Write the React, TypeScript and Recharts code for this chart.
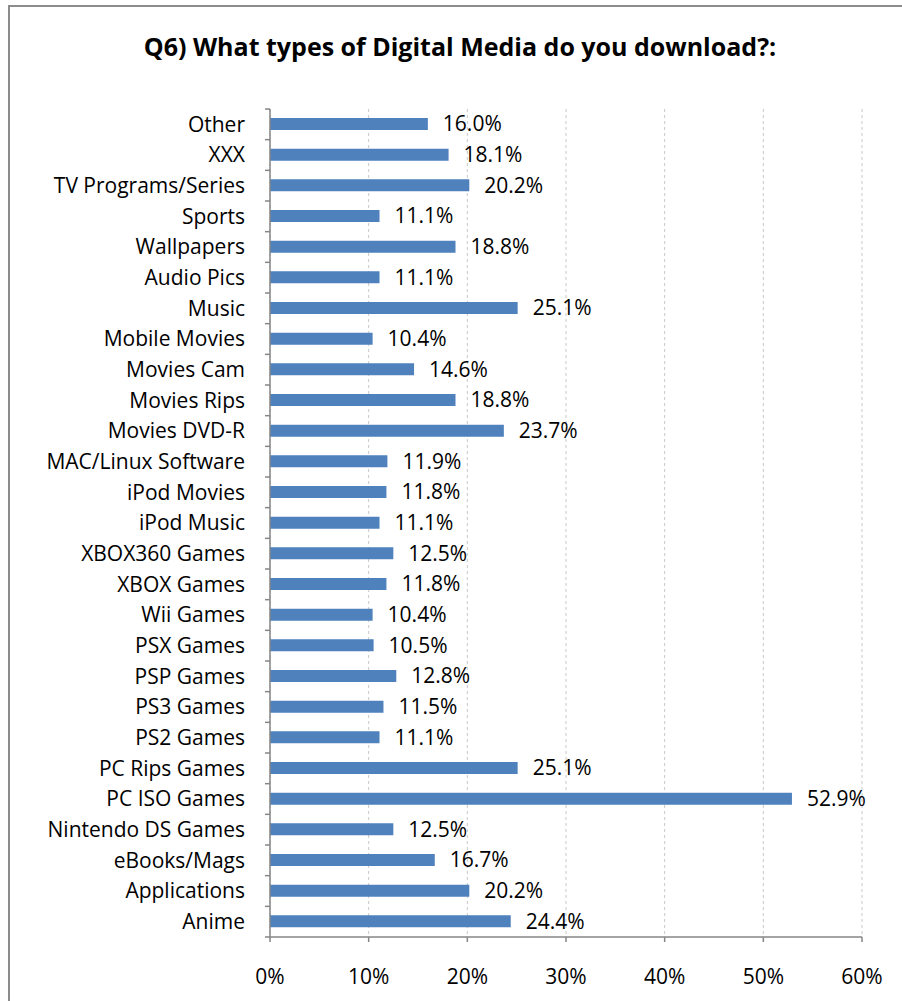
import { BarChart, Bar, XAxis, YAxis, CartesianGrid, LabelList } from 'recharts'

const categories = [
  'Other', 'XXX', 'TV Programs/Series', 'Sports', 'Wallpapers', 'Audio Pics', 'Music',
  'Mobile Movies', 'Movies Cam', 'Movies Rips', 'Movies DVD-R', 'MAC/Linux Software',
  'iPod Movies', 'iPod Music', 'XBOX360 Games', 'XBOX Games', 'Wii Games', 'PSX Games',
  'PSP Games', 'PS3 Games', 'PS2 Games', 'PC Rips Games', 'PC ISO Games',
  'Nintendo DS Games', 'eBooks/Mags', 'Applications', 'Anime',
]

const shares = [
  16.0, 18.1, 20.2, 11.1, 18.8, 11.1, 25.1,
  10.4, 14.6, 18.8, 23.7, 11.9,
  11.8, 11.1, 12.5, 11.8, 10.4, 10.5,
  12.8, 11.5, 11.1, 25.1, 52.9,
  12.5, 16.7, 20.2, 24.4,
]

const xTicks = [0, 10, 20, 30, 40, 50, 60]

const data = categories.map((name, i) => ({ name, share: shares[i] }))

const font = '"Open Sans", sans-serif'
const axisGray = '#868686'
const fs = 21

const W = 902
const H = 1001
const M = { top: 109, right: 40, bottom: 34, left: 0 }
const X_AXIS_H = 30
const band = (H - M.top - M.bottom - X_AXIS_H) / categories.length

// label plus Excel-style tick marks between categories
function CatTick(props: any) {
  const { x, y, payload, index } = props
  const ax = x + 25
  return (
    <g>
      {index === 0 && (
        <line x1={ax - 5} x2={ax} y1={y - band / 2} y2={y - band / 2} stroke={axisGray} strokeWidth={1.5} />
      )}
      <line x1={ax - 5} x2={ax} y1={y + band / 2} y2={y + band / 2} stroke={axisGray} strokeWidth={1.5} />
      <text x={x} y={y} dy="0.355em" textAnchor="end" fill="#000" fontSize={fs} fontFamily={font}>
        {payload.value}
      </text>
    </g>
  )
}

export default function App() {
  return (
    <div style={{ position: 'absolute', left: 0, top: 0, width: W, height: H, overflow: 'hidden', background: '#fff', fontFamily: font }}>
      <div style={{ position: 'absolute', left: 8, top: 5, width: 1000, height: 1100, border: '2px solid #8c8c8c' }} />
      <div style={{ position: 'absolute', left: 0, width: W, top: 29, textAlign: 'center', fontWeight: 'bold', fontSize: 25, lineHeight: '34px', color: '#000', paddingLeft: 18, boxSizing: 'border-box' }}>
        Q6) What types of Digital Media do you download?:
      </div>
      <BarChart
        width={W}
        height={H}
        data={data}
        layout="vertical"
        margin={M}
        barSize={12}
        style={{ position: 'absolute', left: 0, top: 0 }}
      >
        <CartesianGrid horizontal={false} stroke="#c8c8c8" strokeDasharray="3 3" />
        <XAxis
          type="number"
          domain={[0, 60]}
          ticks={xTicks}
          height={X_AXIS_H}
          tickFormatter={(v: number) => `${v}%`}
          stroke={axisGray}
          strokeWidth={1.5}
          tickSize={5}
          tickMargin={27}
          tick={{ fill: '#000', fontSize: fs, fontFamily: font }}
        />
        <YAxis
          type="category"
          dataKey="name"
          width={270}
          stroke={axisGray}
          strokeWidth={1.5}
          tickLine={false}
          tickSize={0}
          tickMargin={25}
          interval={0}
          tick={<CatTick />}
        />
        <Bar dataKey="share" fill="#4f81bd" isAnimationActive={false}>
          <LabelList
            dataKey="share"
            position="right"
            offset={15}
            formatter={(v: number) => `${v.toFixed(1)}%`}
            style={{ fill: '#000', fontSize: fs, fontFamily: font }}
          />
        </Bar>
      </BarChart>
    </div>
  )
}
